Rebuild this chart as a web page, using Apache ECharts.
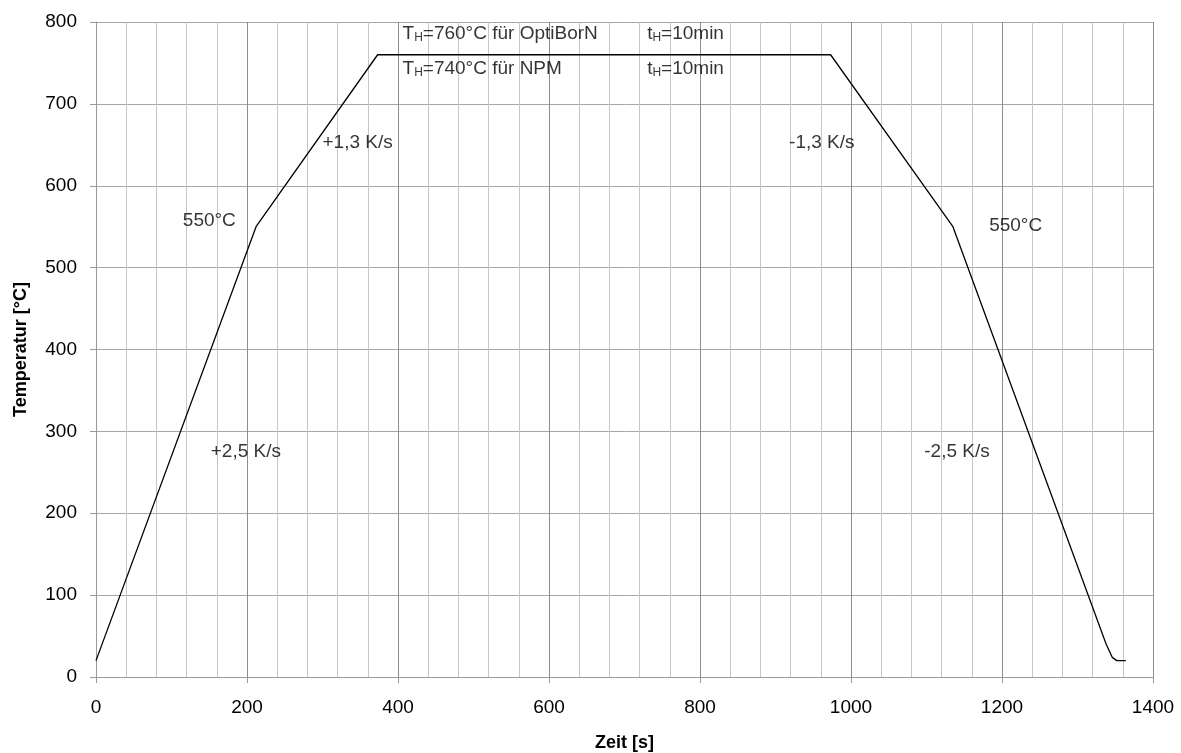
<!DOCTYPE html>
<html>
<head>
<meta charset="utf-8">
<script src="https://cdn.jsdelivr.net/npm/echarts@6/dist/echarts.min.js"></script>
<style>
  html, body { margin: 0; padding: 0; background: #fff; }
  #chart { width: 1181px; height: 753px; }
</style>
</head>
<body>
<div id="chart"></div>
<script>
// Heat treatment cycle: time [s] vs. temperature [°C]
const zeit = [0, 212, 373, 973, 1135, 1338, 1346, 1352, 1364];
const temperatur = [20, 550, 760, 760, 550, 40, 24, 20, 20];

const xTicks = [0, 200, 400, 600, 800, 1000, 1200, 1400];
const yTicks = [0, 100, 200, 300, 400, 500, 600, 700, 800];

// Annotation texts and their anchor points (data coordinates, left edge)
const noteTexts = [
  '{n|T}{s|H}{n|=760°C für OptiBorN}',
  '{n|t}{s|H}{n|=10min}',
  '{n|T}{s|H}{n|=740°C für NPM}',
  '{n|t}{s|H}{n|=10min}',
  '{n|550°C}',
  '{n|+1,3 K/s}',
  '{n|+2,5 K/s}',
  '{n|-1,3 K/s}',
  '{n|550°C}',
  '{n|-2,5 K/s}'
];
const noteX = [406, 730, 406, 730, 115, 300, 152, 918, 1183, 1097];
const noteY = [786, 786, 743, 743, 557, 653, 275, 653, 551, 275];

const FONT = 'Liberation Sans, Arial, sans-serif';
const TXT = '#000000';

const chart = echarts.init(document.getElementById('chart'), null, { renderer: 'canvas' });

const lineData = zeit.map((t, i) => [t, temperatur[i]]);
const noteData = noteTexts.map((s, i) => ({ value: [noteX[i], noteY[i]], label: { formatter: s } }));

chart.setOption({
  animation: false,
  backgroundColor: '#ffffff',
  grid: { left: 96, right: 28, top: 22, bottom: 76, containLabel: false, outerBoundsMode: 'none' },
  xAxis: {
    type: 'value',
    min: xTicks[0],
    max: xTicks[xTicks.length - 1],
    interval: 200,
    name: 'Zeit [s]',
    nameLocation: 'middle',
    nameGap: 57,
    nameTextStyle: { fontFamily: FONT, fontSize: 18, fontWeight: 'bold', color: TXT },
    axisLine: { show: true, lineStyle: { color: '#9a9a9a', width: 1 } },
    axisTick: { show: true, length: 6, lineStyle: { color: '#9a9a9a' } },
    axisLabel: { fontFamily: FONT, fontSize: 19, color: TXT, margin: 21, formatter: v => String(v) },
    splitLine: { show: true, lineStyle: { color: '#8e8e8e', width: 1 } },
    minorTick: { show: false, splitNumber: 5 },
    minorSplitLine: { show: true, lineStyle: { color: '#c6c6c6', width: 1 } }
  },
  yAxis: {
    type: 'value',
    min: yTicks[0],
    max: yTicks[yTicks.length - 1],
    interval: 100,
    name: 'Temperatur [°C]',
    nameLocation: 'middle',
    nameGap: 66,
    nameRotate: 90,
    nameTextStyle: { fontFamily: FONT, fontSize: 18, fontWeight: 'bold', color: TXT },
    axisLine: { show: true, lineStyle: { color: '#9a9a9a', width: 1 } },
    axisTick: { show: true, length: 6, lineStyle: { color: '#9a9a9a' } },
    axisLabel: { fontFamily: FONT, fontSize: 19, color: TXT, margin: 19, formatter: v => String(v) },
    splitLine: { show: true, lineStyle: { color: '#a6a6a6', width: 1 } }
  },
  series: [
    {
      type: 'line',
      data: lineData,
      symbol: 'none',
      smooth: false,
      lineStyle: { color: '#000000', width: 1.3 },
      z: 3
    },
    {
      type: 'scatter',
      data: noteData,
      symbolSize: 0,
      silent: true,
      z: 5,
      label: {
        show: true,
        position: 'inside',
        align: 'left',
        verticalAlign: 'middle',
        rich: {
          n: { fontFamily: FONT, fontSize: 19, color: TXT, lineHeight: 22 },
          s: { fontFamily: FONT, fontSize: 12, color: TXT, lineHeight: 22, padding: [9, 0, 0, 0] }
        }
      }
    }
  ]
});
</script>
</body>
</html>
